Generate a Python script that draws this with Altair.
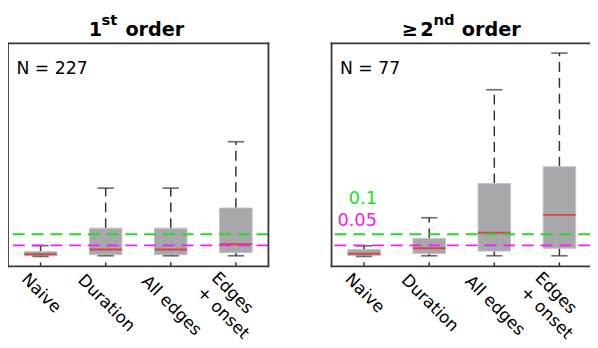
import json
import altair as alt
import pandas as pd

# ---------------- data ----------------
categories = ["Naive", "Duration", "All edges", "Edges\n+ onset"]
positions = [1, 2, 3, 4]

left_low = [0.000, 0.003, 0.003, 0.003]
left_q1 = [0.003, 0.008, 0.008, 0.017]
left_median = [0.010, 0.031, 0.031, 0.055]
left_q3 = [0.022, 0.128, 0.128, 0.219]
left_high = [0.049, 0.309, 0.309, 0.519]

right_low = [0.000, 0.003, 0.003, 0.003]
right_q1 = [0.004, 0.013, 0.024, 0.037]
right_median = [0.012, 0.037, 0.107, 0.188]
right_q3 = [0.031, 0.082, 0.330, 0.406]
right_high = [0.048, 0.175, 0.754, 0.920]

n_left = 227
n_right = 77

thresholds = [0.1, 0.05]
threshold_labels = ["0.1", "0.05"]
threshold_colors = ["#22dd22", "#ee22ee"]

title_left = ["1", "st", "order"]
title_right = ["\u2265", "2", "nd", "order"]

y_domain = [-0.0446, 0.964]

# ---------------- styling ----------------
H = 226
W_LEFT = 264
W_RIGHT = 262
SPACING = 64
STEP = 66.0
FONT = "DejaVu Sans"
DARK = "#333333"
FRAME = "#363636"
BOX_FILL = "#a8a8ac"
BOX_EDGE = "#c4c4c6"
RED = "#e62020"

label_expr = json.dumps([c.split("\n") for c in categories]) + "[datum.value - 1]"
label_pad = {
    "condition": [
        {"test": "datum.value == 1", "value": 27},
        {"test": "datum.value == 2", "value": 37},
        {"test": "datum.value == 3", "value": 39.6},
    ],
    "value": 8.5,
}
label_align = {"condition": {"test": "datum.value == 4", "value": "left"}, "value": "center"}
label_offset = {"condition": {"test": "datum.value == 4", "value": -22.5}, "value": 0}

ys = alt.Scale(domain=y_domain, nice=False, zero=False)
one = pd.DataFrame({"a": [0]})


def txt(s, x, y, size, align="left", bold=False, color="black"):
    kw = dict(align=align, baseline="alphabetic", fontSize=size, font=FONT, color=color)
    if bold:
        kw["fontWeight"] = "bold"
    return alt.Chart(pd.DataFrame({"t": [s]})).mark_text(**kw).encode(
        x=alt.value(x), y=alt.value(y), text="t:N"
    )


def panel(low, q1, med, q3, high, n, W, is_right):
    df = pd.DataFrame({"pos": positions, "low": low, "q1": q1, "med": med,
                       "q3": q3, "high": high})
    axis = alt.Axis(values=positions, labelExpr=label_expr, labelAngle=45,
                    labelAlign=label_align, labelBaseline="middle",
                    labelPadding=label_pad, labelOffset=label_offset,
                    labelFontSize=17, labelFont=FONT,
                    labelColor="black", labelOverlap=False, labelFlush=False,
                    labelLineHeight=21, domain=False, ticks=False, tickSize=0,
                    grid=False, title=None)
    x = alt.X("pos:Q",
              scale=alt.Scale(domain=[0.5, 0.5 + W / STEP], nice=False, zero=False, padding=0),
              axis=axis)
    base = alt.Chart(df).encode(x=x)

    whisk_hi = base.mark_rule(color=DARK, strokeWidth=1.5, strokeDash=[10, 6]).encode(
        y=alt.Y("q3:Q", scale=ys, axis=None), y2="high:Q")
    whisk_lo = base.mark_rule(color=DARK, strokeWidth=1.5, strokeDash=[10, 6]).encode(
        y=alt.Y("low:Q", scale=ys, axis=None), y2="q1:Q")
    box = base.mark_bar(size=33, color=BOX_FILL, stroke=BOX_EDGE, strokeWidth=1).encode(
        y=alt.Y("q1:Q", scale=ys, axis=None), y2="q3:Q")
    median = base.mark_tick(orient="horizontal", size=33, thickness=2, color=RED).encode(
        y=alt.Y("med:Q", scale=ys, axis=None))
    cap_hi = base.mark_tick(orient="horizontal", size=16.5, thickness=1.7, color=DARK).encode(
        y=alt.Y("high:Q", scale=ys, axis=None))
    cap_lo = base.mark_tick(orient="horizontal", size=16.5, thickness=1.7, color=DARK).encode(
        y=alt.Y("low:Q", scale=ys, axis=None))
    inticks = base.mark_rule(color=DARK, strokeWidth=1.5).encode(
        y=alt.value(H), y2=alt.value(H - 4))

    thr_df = pd.DataFrame({"v": thresholds, "lab": threshold_labels})
    thr = alt.Chart(thr_df).mark_rule(strokeDash=[12, 7], strokeWidth=2).encode(
        y=alt.Y("v:Q", scale=ys, axis=None),
        color=alt.Color("lab:N", scale=alt.Scale(domain=threshold_labels, range=threshold_colors),
                        legend=None))

    fr = dict(color=FRAME, strokeWidth=1.8, strokeCap="square")
    frame = [
        alt.Chart(one).mark_rule(**fr).encode(x=alt.value(0), x2=alt.value(W), y=alt.value(0)),
        alt.Chart(one).mark_rule(**fr).encode(x=alt.value(0), x2=alt.value(W), y=alt.value(H)),
        alt.Chart(one).mark_rule(**fr).encode(x=alt.value(0), y=alt.value(0), y2=alt.value(H)),
    ]
    if not is_right:
        frame.append(alt.Chart(one).mark_rule(**fr).encode(
            x=alt.value(W), y=alt.value(0), y2=alt.value(H)))

    layers = [whisk_hi, whisk_lo, box, median, cap_hi, cap_lo, thr, inticks] + frame
    layers.append(txt(f"N = {n}", 8.5, 31.5, 17.5))

    if not is_right:
        layers += [
            txt(title_left[0], 95.5, -7.7, 19.5, align="right", bold=True),
            txt(title_left[1], 94.8, -18.3, 15, bold=True),
            txt(title_left[2], 119, -7.7, 19.5, bold=True),
        ]
    else:
        layers += [
            txt(title_right[0], 87.5, -7.7, 19.5, align="right", bold=True),
            txt(title_right[1], 103.5, -7.7, 19.5, align="right", bold=True),
            txt(title_right[2], 103.3, -18.5, 15, bold=True),
            txt(title_right[3], 132, -7.7, 19.5, bold=True),
            txt(threshold_labels[0], 46, 163.3, 18, align="right", color=threshold_colors[0]),
            txt(threshold_labels[1], 46, 185, 18, align="right", color=threshold_colors[1]),
        ]
    return alt.layer(*layers).properties(width=W, height=H)


left = panel(left_low, left_q1, left_median, left_q3, left_high, n_left, W_LEFT, False)
right = panel(right_low, right_q1, right_median, right_q3, right_high, n_right, W_RIGHT, True)

chart = alt.hconcat(
    left, right, spacing=SPACING, bounds="flush",
    autosize=alt.AutoSizeParams(type="none"),
    padding={"left": 0, "top": 32, "right": 590, "bottom": 300},
).resolve_scale(
    x="independent", y="independent", color="independent"
).configure_view(strokeWidth=0)

chart.save("out.html", embed_options={"renderer": "svg", "actions": False})
